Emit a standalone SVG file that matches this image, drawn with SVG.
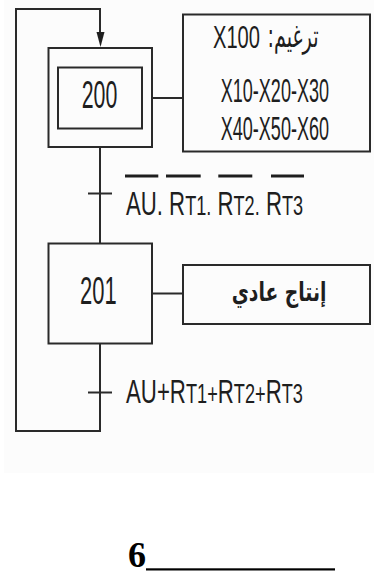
<svg xmlns="http://www.w3.org/2000/svg" width="374" height="574" viewBox="0 0 374 574">
<style>
.box{fill:none;stroke:#2a2a2a;stroke-width:2}
.ln{fill:none;stroke:#2a2a2a;stroke-width:2}
.t{font-family:"Liberation Sans",Arial,sans-serif;fill:#1e1e1e}
.ar{font-family:"DejaVu Sans",sans-serif;fill:#1e1e1e}
.bar{stroke:#1e1e1e;stroke-width:3}
</style>
<rect x="0" y="0" width="374" height="574" fill="#ffffff"/>
<rect x="4" y="0" width="370" height="473" fill="#fcfcfc"/>

<g id="connectors">
<path class="ln" d="M100,343 V431 H16 V9 H100 V32"/>
<polygon points="96.5,32 104.5,32 100.5,47" fill="#1e1e1e"/>
<line class="ln" x1="100" y1="147" x2="100" y2="243"/>
<line class="ln" x1="88" y1="193.5" x2="112" y2="193.5"/>
<line class="ln" x1="88" y1="392.5" x2="112" y2="392.5"/>
<line class="ln" x1="152" y1="98" x2="183" y2="98"/>
<line class="ln" x1="152" y1="293.5" x2="183" y2="293.5"/>
</g>

<g id="step200">
<rect class="box" x="48.5" y="48" width="103.5" height="99"/>
<rect class="box" x="58" y="67.5" width="84" height="61"/>
<text class="t" transform="translate(81.7 108.3) scale(0.554 1)" font-size="38.5">200</text>
</g>

<g id="action200">
<rect class="box" x="183" y="14.5" width="187" height="137"/>
<text class="t" transform="translate(213 48) scale(0.629 1)" font-size="32">X100</text>
<text class="ar" transform="translate(293 47) scale(0.6 1)" text-anchor="middle" direction="rtl" font-size="32">ترغيم:</text>
<text class="t" transform="translate(220.7 101.5) scale(0.531 1)" font-size="34">X10-X20-X30</text>
<text class="t" transform="translate(220.7 140) scale(0.531 1)" font-size="34">X40-X50-X60</text>
</g>

<g id="transition1">
<text class="t" transform="translate(126 215) scale(0.672 1)" font-size="33">AU. R<tspan font-size="27">T1.</tspan> R<tspan font-size="27">T2.</tspan> R<tspan font-size="27">T3</tspan></text>
<line class="bar" x1="125" y1="176" x2="158.3" y2="176"/>
<line class="bar" x1="166" y1="176" x2="200.7" y2="176"/>
<line class="bar" x1="218.3" y1="176" x2="252.3" y2="176"/>
<line class="bar" x1="271" y1="176" x2="304" y2="176"/>
</g>

<g id="step201">
<rect class="box" x="48.5" y="243.5" width="103.5" height="100"/>
<text class="t" transform="translate(80 304) scale(0.564 1)" font-size="39">201</text>
</g>

<g id="action201">
<rect class="box" x="183" y="265" width="187" height="59"/>
<text class="ar" transform="translate(279 301) scale(0.72 1)" text-anchor="middle" direction="rtl" font-size="26" font-weight="bold">إنتاج عادي</text>
</g>

<g id="transition2">
<text class="t" transform="translate(126 403.3) scale(0.674 1)" font-size="33">AU+R<tspan font-size="27">T1+</tspan>R<tspan font-size="27">T2+</tspan>R<tspan font-size="27">T3</tspan></text>
</g>

<g id="footer">
<text x="128" y="567" font-family="Liberation Serif,'Times New Roman',serif" font-weight="bold" font-size="36" fill="#000">6</text>
<rect x="146" y="568.3" width="189" height="2.2" fill="#000"/>
</g>
</svg>
